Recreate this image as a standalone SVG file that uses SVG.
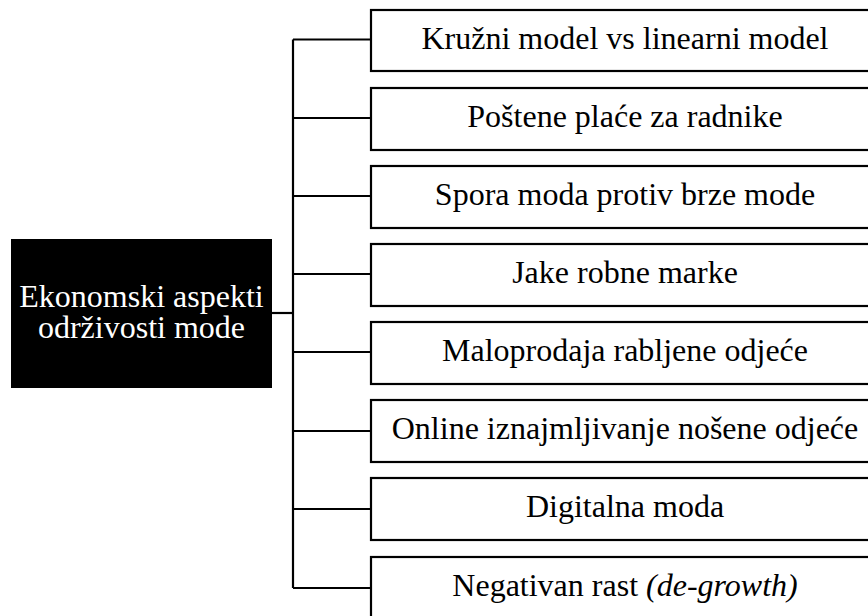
<svg xmlns="http://www.w3.org/2000/svg" width="868" height="616" viewBox="0 0 868 616">
<style>
.box{fill:#fff;stroke:#000;stroke-width:2.2}
.t{font-size:32px;fill:#000;text-anchor:middle}
.w{fill:#fff}
.c{fill:none;stroke:#000;stroke-width:2.2}
</style>
<rect width="868" height="616" fill="#fff"/>
<g id="connectors">
<path class="c" d="M293,39.5 V588"/>
<path class="c" d="M272,313 H293"/>
<path class="c" d="M293,39.5 H371 M293,118 H371 M293,196 H371 M293,274 H371 M293,352 H371 M293,431 H371 M293,509 H371 M293,588 H371"/>
</g>
<g id="root">
<rect x="11" y="239" width="261" height="149" fill="#000"/>
<text class="t w" font-family="Liberation Serif, serif" x="141.5" y="307">Ekonomski aspekti</text>
<text class="t w" font-family="Liberation Serif, serif" x="141.5" y="338">održivosti mode</text>
</g>
<g id="n1"><rect class="box" x="371" y="10" width="520" height="61"/><text class="t" font-family="Liberation Serif, serif" x="625" y="49">Kružni model vs linearni model</text></g>
<g id="n2"><rect class="box" x="371" y="88" width="520" height="62"/><text class="t" font-family="Liberation Serif, serif" x="625" y="127">Poštene plaće za radnike</text></g>
<g id="n3"><rect class="box" x="371" y="166" width="520" height="62"/><text class="t" font-family="Liberation Serif, serif" x="625" y="205">Spora moda protiv brze mode</text></g>
<g id="n4"><rect class="box" x="371" y="244" width="520" height="62"/><text class="t" font-family="Liberation Serif, serif" x="625" y="283">Jake robne marke</text></g>
<g id="n5"><rect class="box" x="371" y="322" width="520" height="62"/><text class="t" font-family="Liberation Serif, serif" x="625" y="361">Maloprodaja rabljene odjeće</text></g>
<g id="n6"><rect class="box" x="371" y="400" width="520" height="62"/><text class="t" font-family="Liberation Serif, serif" x="625" y="439">Online iznajmljivanje nošene odjeće</text></g>
<g id="n7"><rect class="box" x="371" y="478" width="520" height="62"/><text class="t" font-family="Liberation Serif, serif" x="625" y="517">Digitalna moda</text></g>
<g id="n8"><rect class="box" x="371" y="557" width="520" height="80"/><text class="t" font-family="Liberation Serif, serif" x="625" y="596">Negativan rast <tspan font-style="italic">(de-growth)</tspan></text></g>
</svg>
